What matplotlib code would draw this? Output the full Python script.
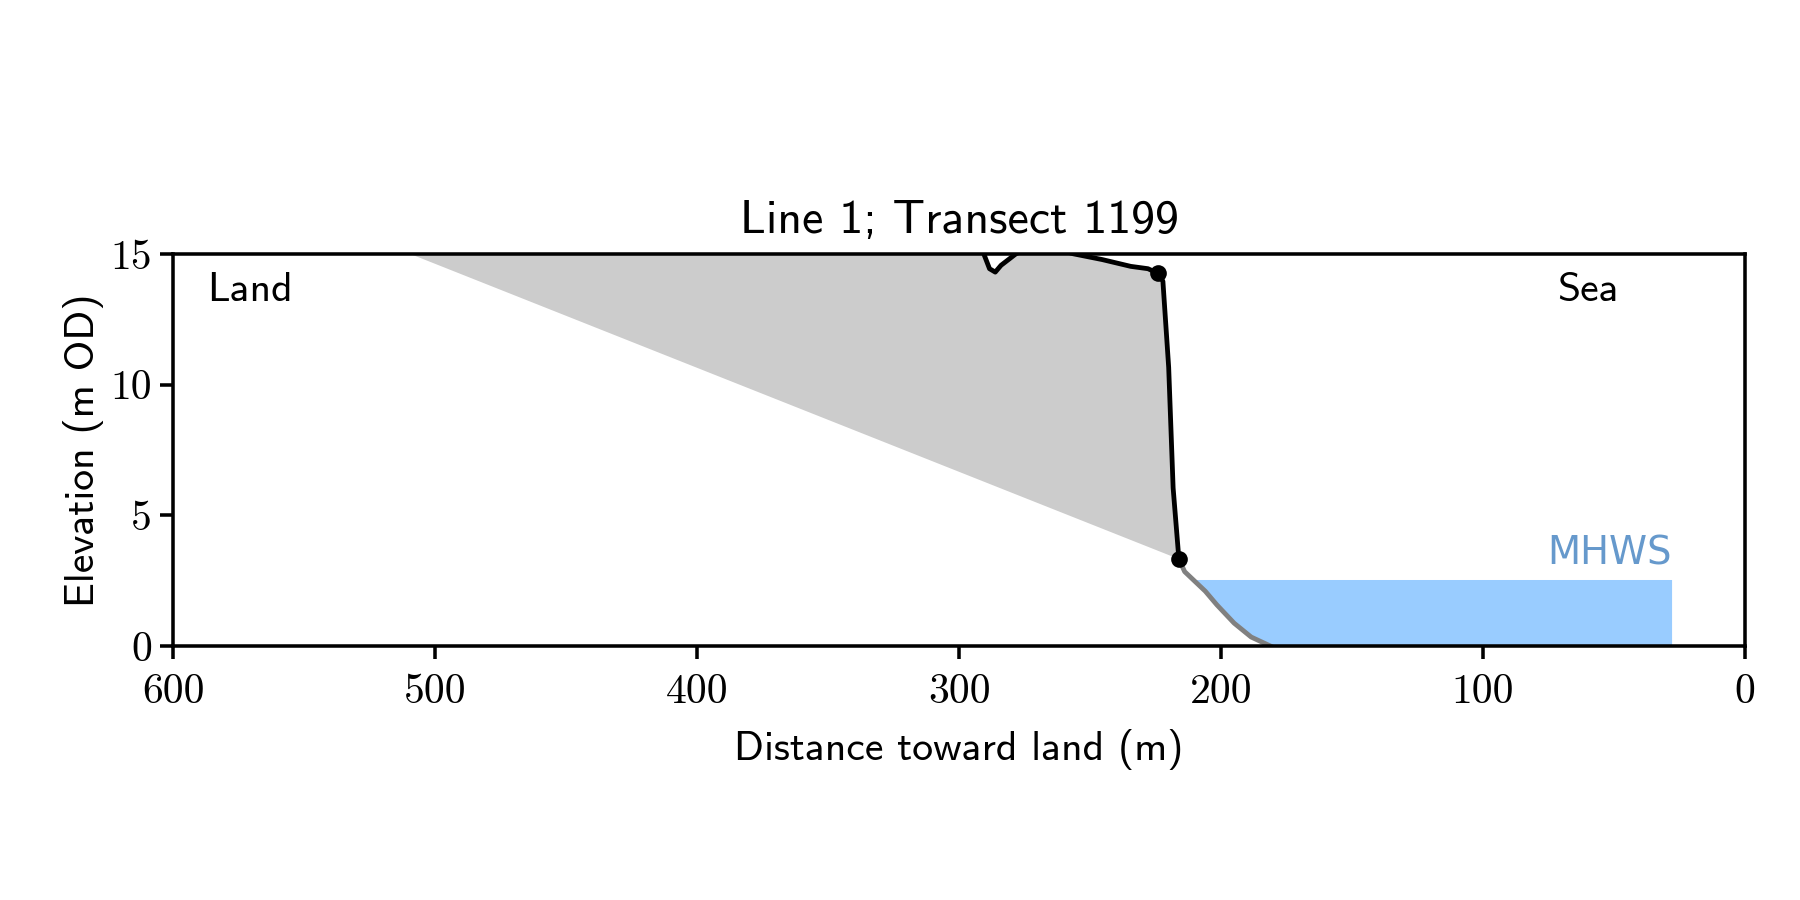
import numpy as np
import matplotlib
matplotlib.use('Agg')
import matplotlib.pyplot as plt

# cross-shore profile (distance toward land, elevation m OD), points above 15 are clipped
cliff_x = np.array([600.0, 300.0, 290.6, 288.4, 286.2, 284.0, 278.3, 270.0, 256.4,
                    245.4, 234.5, 227.9, 224.0])
cliff_z = np.array([20.0, 16.0, 15.0, 14.43, 14.30, 14.56, 15.0, 15.4, 15.0,
                    14.78, 14.52, 14.43, 14.25])
face_x = np.array([224.0, 222.2, 220.0, 218.3, 216.1])
face_z = np.array([14.25, 13.95, 10.66, 6.05, 3.33])
beach_x = np.array([216.1, 213.9, 206.0, 201.6, 195.0, 188.5, 181.0])
beach_z = np.array([3.33, 2.85, 2.10, 1.58, 0.88, 0.35, 0.0])

crest = (224.0, 14.25)
toe = (216.1, 3.33)
# line from toe to where it hits the top of the plot
base_x = np.array([216.1, 509.7, 600.0])
base_z = np.array([3.33, 15.0, 18.59])

mhws = 2.55
sea_end = 28.0

tick_x = [600, 500, 400, 300, 200, 100, 0]
tick_y = [0, 5, 10, 15]

sans = 'cmss10'
serif = 'cmr10'

fig = plt.figure(figsize=(12, 6), dpi=150)
ax = fig.add_axes([0.0963, 0.282, 0.8731, 0.436])

# eroded area
top_x = np.concatenate([face_x[::-1], cliff_x[::-1]])
top_z = np.concatenate([face_z[::-1], cliff_z[::-1]])
poly_x = np.concatenate([top_x, base_x[::-1]])
poly_z = np.concatenate([top_z, base_z[::-1]])
ax.fill(poly_x, poly_z, color='#cccccc', lw=0, zorder=1)

# sea below MHWS
x_cross = np.interp(mhws, beach_z[::-1], beach_x[::-1])
keep = beach_x < x_cross
sea_x = np.concatenate([[x_cross], beach_x[keep], [sea_end]])
sea_floor = np.concatenate([[mhws], beach_z[keep], [0.0]])
ax.fill_between(sea_x, sea_floor, mhws, color='#99ccff', lw=0, zorder=1)
ax.text(sea_end, mhws + 0.25, 'MHWS', color='#6699cc', fontsize=18.5,
        family='DejaVu Sans', ha='right', va='bottom')

ax.plot(cliff_x, cliff_z, color='black', lw=2.3, zorder=3)
ax.plot(face_x, face_z, color='black', lw=2.3, zorder=3)
ax.plot(beach_x, beach_z, color='gray', lw=2.3, zorder=2)
ax.plot([crest[0], toe[0]], [crest[1], toe[1]], 'o', color='black', ms=7, lw=0, zorder=4)

ax.text(587, 13.6, 'Land', family=sans, fontsize=20, ha='left', va='center')
ax.text(48, 13.6, 'Sea', family=sans, fontsize=20, ha='right', va='center')

ax.set_xlim(600, 0)
ax.set_ylim(0, 15)
ax.set_xticks(tick_x)
ax.set_xticklabels([str(t) for t in tick_x], family=serif, fontsize=20)
ax.set_yticks(tick_y)
ax.set_yticklabels([str(t) for t in tick_y], family=serif, fontsize=20)
ax.tick_params(width=1.7, length=6.2)
ax.tick_params(axis='x', pad=7)
ax.tick_params(axis='y', pad=4)
for s in ax.spines.values():
    s.set_linewidth(1.7)

ax.set_xlabel('Distance toward land (m)', family=sans, fontsize=20, labelpad=8.5)
ax.set_ylabel('Elevation (m OD)', family=sans, fontsize=20, labelpad=3)
ax.set_title('Line 1; Transect 1199', family=sans, fontsize=23, pad=10)

fig.savefig('out.png', dpi=150)
